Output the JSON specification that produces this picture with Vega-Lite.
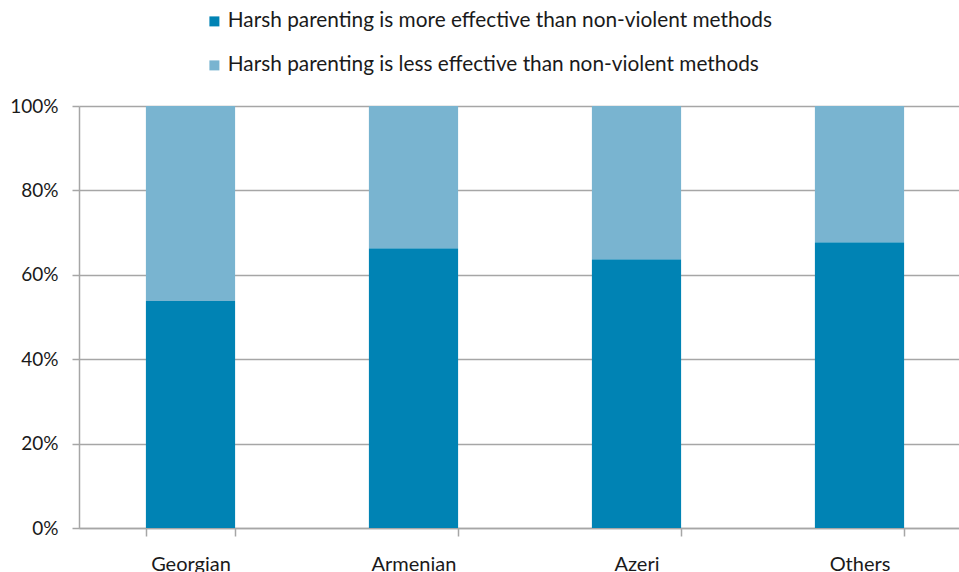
{
  "$schema": "https://vega.github.io/schema/vega-lite/v6.json",
  "autosize": "none",
  "padding": {"left": 79, "top": 106, "right": 0, "bottom": 44},
  "width": 892,
  "height": 422,
  "background": "white",
  "config": {
    "font": "Lato",
    "view": {"stroke": null}
  },
  "data": {
    "values": [
      {"group": "Georgian", "opinion": "Harsh parenting is more effective than non-violent methods", "ord": 1, "share": 53.8},
      {"group": "Georgian", "opinion": "Harsh parenting is less effective than non-violent methods", "ord": 2, "share": 46.2},
      {"group": "Armenian", "opinion": "Harsh parenting is more effective than non-violent methods", "ord": 1, "share": 66.3},
      {"group": "Armenian", "opinion": "Harsh parenting is less effective than non-violent methods", "ord": 2, "share": 33.7},
      {"group": "Azeri", "opinion": "Harsh parenting is more effective than non-violent methods", "ord": 1, "share": 63.7},
      {"group": "Azeri", "opinion": "Harsh parenting is less effective than non-violent methods", "ord": 2, "share": 36.3},
      {"group": "Others", "opinion": "Harsh parenting is more effective than non-violent methods", "ord": 1, "share": 67.7},
      {"group": "Others", "opinion": "Harsh parenting is less effective than non-violent methods", "ord": 2, "share": 32.3}
    ]
  },
  "mark": {"type": "bar"},
  "encoding": {
    "x": {
      "field": "group",
      "type": "nominal",
      "sort": ["Georgian", "Armenian", "Azeri", "Others"],
      "scale": {"paddingInner": 0.6, "paddingOuter": 0.3},
      "axis": {
        "title": null,
        "labelAngle": 0,
        "labelFontSize": 20,
        "labelColor": "#1a1a1a",
        "labelPadding": 18,
        "labelBaseline": "top",
        "tickBand": "extent",
        "tickSize": 8,
        "tickColor": "#a6a6a6",
        "tickWidth": 1.5,
        "domainColor": "#a6a6a6",
        "domainWidth": 1.5,
        "grid": false
      }
    },
    "y": {
      "field": "share",
      "type": "quantitative",
      "stack": "normalize",
      "scale": {"domain": [0, 1], "nice": false},
      "axis": {
        "title": null,
        "format": ".0%",
        "values": [0, 0.2, 0.4, 0.6, 0.8, 1],
        "labelFontSize": 19,
        "labelColor": "#1a1a1a",
        "labelPadding": 14,
        "tickSize": 7,
        "tickColor": "#a6a6a6",
        "tickWidth": 1.5,
        "domainColor": "#a6a6a6",
        "domainWidth": 1.5,
        "grid": true,
        "gridColor": "#a6a6a6",
        "gridWidth": 1.5
      }
    },
    "color": {
      "field": "opinion",
      "type": "nominal",
      "scale": {
        "domain": [
          "Harsh parenting is more effective than non-violent methods",
          "Harsh parenting is less effective than non-violent methods"
        ],
        "range": ["#0083b4", "#79b4d0"]
      },
      "legend": {
        "title": null,
        "orient": "none",
        "legendX": 125,
        "legendY": -95,
        "direction": "vertical",
        "symbolType": "square",
        "symbolSize": 100,
        "symbolStrokeWidth": 0,
        "labelFontSize": 20.8,
        "labelColor": "#1a1a1a",
        "labelOffset": 3,
        "labelLimit": 800,
        "rowPadding": 22
      }
    },
    "order": {"field": "ord", "type": "quantitative"}
  }
}
